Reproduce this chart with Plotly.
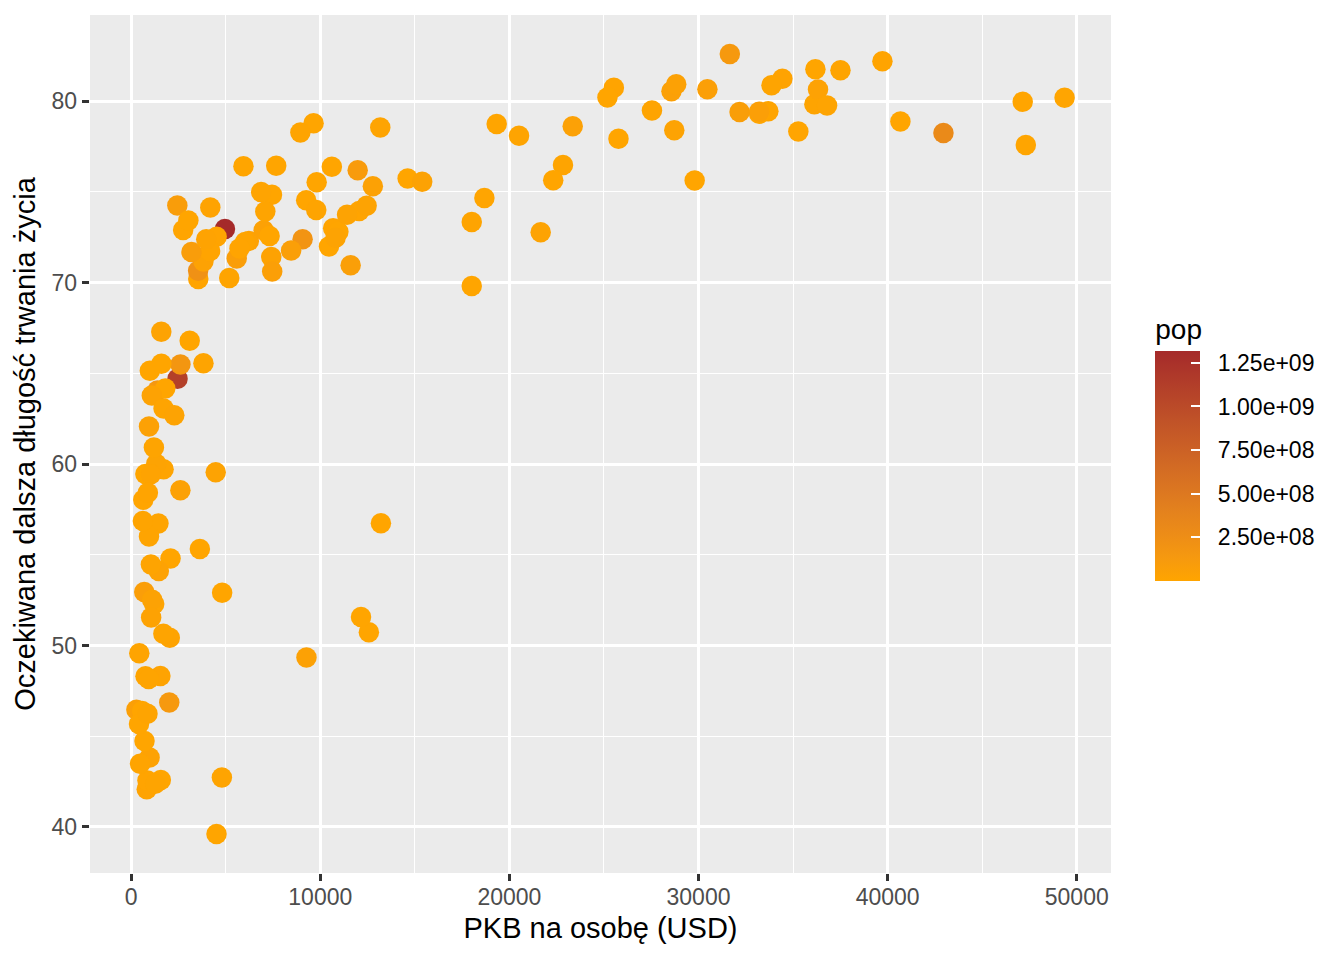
import numpy as np
import plotly.graph_objects as go

# gapminder, 2007
countries = [
    "Afghanistan", "Albania", "Algeria", "Angola", "Argentina", "Australia", "Austria", "Bahrain",
    "Bangladesh", "Belgium", "Benin", "Bolivia", "Bosnia and Herzegovina", "Botswana", "Brazil",
    "Bulgaria", "Burkina Faso", "Burundi", "Cambodia", "Cameroon", "Canada", "Central African Republic",
    "Chad", "Chile", "China", "Colombia", "Comoros", "Congo, Dem. Rep.", "Congo, Rep.", "Costa Rica",
    "Cote d'Ivoire", "Croatia", "Cuba", "Czech Republic", "Denmark", "Djibouti", "Dominican Republic",
    "Ecuador", "Egypt", "El Salvador", "Equatorial Guinea", "Eritrea", "Ethiopia", "Finland", "France",
    "Gabon", "Gambia", "Germany", "Ghana", "Greece", "Guatemala", "Guinea", "Guinea-Bissau", "Haiti",
    "Honduras", "Hong Kong, China", "Hungary", "Iceland", "India", "Indonesia", "Iran", "Iraq", "Ireland",
    "Israel", "Italy", "Jamaica", "Japan", "Jordan", "Kenya", "Korea, Dem. Rep.", "Korea, Rep.", "Kuwait",
    "Lebanon", "Lesotho", "Liberia", "Libya", "Madagascar", "Malawi", "Malaysia", "Mali", "Mauritania",
    "Mauritius", "Mexico", "Mongolia", "Montenegro", "Morocco", "Mozambique", "Myanmar", "Namibia",
    "Nepal", "Netherlands", "New Zealand", "Nicaragua", "Niger", "Nigeria", "Norway", "Oman", "Pakistan",
    "Panama", "Paraguay", "Peru", "Philippines", "Poland", "Portugal", "Puerto Rico", "Reunion", "Romania",
    "Rwanda", "Sao Tome and Principe", "Saudi Arabia", "Senegal", "Serbia", "Sierra Leone", "Singapore",
    "Slovak Republic", "Slovenia", "Somalia", "South Africa", "Spain", "Sri Lanka", "Sudan", "Swaziland",
    "Sweden", "Switzerland", "Syria", "Taiwan", "Tanzania", "Thailand", "Togo", "Trinidad and Tobago",
    "Tunisia", "Turkey", "Uganda", "United Kingdom", "United States", "Uruguay", "Venezuela", "Vietnam",
    "West Bank and Gaza", "Yemen, Rep.", "Zambia", "Zimbabwe",
]

gdp_per_cap = [
    974.58, 5937.03, 6223.37, 4797.23, 12779.38, 34435.37, 36126.49, 29796.05,
    1391.25, 33692.61, 1441.28, 3822.14, 7446.30, 12569.85, 9065.80,
    10680.79, 1217.03, 430.07, 1713.78, 2042.10, 36319.24, 706.02,
    1704.06, 13171.64, 4959.11, 7006.58, 986.15, 277.55, 3632.56, 9645.06,
    1544.75, 14619.22, 8948.10, 22833.31, 35278.42, 2082.48, 6025.37,
    6873.26, 5581.18, 5728.35, 12154.09, 641.37, 690.81, 33207.08, 30470.02,
    13206.48, 752.75, 32170.37, 1327.61, 27538.41, 5186.05, 942.65, 579.23, 1201.64,
    3548.33, 39724.98, 18008.94, 36180.79, 2452.21, 3540.65, 11605.71, 4471.06, 40676.00,
    25523.28, 28569.72, 7320.88, 31656.07, 4519.46, 1463.25, 1593.07, 23348.14, 47306.99,
    10461.06, 1569.33, 414.51, 12057.50, 1044.77, 759.35, 12451.66, 1042.58, 1803.15,
    10956.99, 11977.57, 3095.77, 9253.90, 3820.18, 823.69, 944.00, 4811.06,
    1091.36, 36797.93, 25185.01, 2749.32, 619.68, 2013.98, 49357.19, 22316.19, 2605.95,
    9809.19, 4172.84, 7408.91, 3190.48, 15389.92, 20509.65, 19328.71, 7670.12, 10808.48,
    863.09, 1598.44, 21654.83, 1712.47, 9786.53, 862.54, 47143.18,
    18678.31, 25768.26, 926.14, 9269.66, 28821.06, 3970.10, 2602.39, 4513.48,
    33859.75, 37506.42, 4184.55, 28718.28, 1107.48, 7458.40, 882.97, 18008.51,
    7092.92, 8458.28, 1056.38, 33203.26, 42951.65, 10611.46, 11415.81, 2441.58,
    3025.35, 2280.77, 1271.21, 469.71,
]

life_exp = [
    43.828, 76.423, 72.301, 42.731, 75.320, 81.235, 79.829, 75.635,
    64.062, 79.441, 56.728, 65.554, 74.852, 50.728, 72.390,
    73.005, 52.295, 49.580, 59.723, 50.430, 80.653, 44.741,
    50.651, 78.553, 72.961, 72.889, 65.152, 46.462, 55.322, 78.782,
    48.328, 75.748, 78.273, 76.486, 78.332, 54.791, 72.235,
    74.994, 71.338, 71.878, 51.579, 58.040, 52.947, 79.313, 80.657,
    56.735, 59.448, 79.406, 60.022, 79.483, 70.259, 56.007, 46.388, 60.916,
    70.198, 82.208, 73.338, 81.757, 64.698, 70.650, 70.964, 59.545, 78.885,
    80.745, 80.546, 72.567, 82.603, 72.535, 54.110, 67.297, 78.623, 77.588,
    71.993, 42.592, 45.678, 73.952, 59.443, 48.303, 74.241, 54.467, 64.164,
    72.801, 76.195, 66.803, 74.543, 71.164, 42.082, 62.069, 52.906,
    63.785, 79.762, 80.204, 72.899, 56.867, 46.859, 80.196, 75.640, 65.483,
    75.537, 71.752, 71.421, 71.688, 75.563, 78.098, 78.746, 76.442, 72.476,
    46.242, 65.528, 72.777, 63.062, 74.002, 42.568, 79.972,
    74.663, 77.926, 48.159, 49.339, 80.941, 72.396, 58.556, 39.613,
    80.884, 81.701, 74.143, 78.400, 52.517, 70.616, 58.420, 69.819,
    73.923, 71.777, 51.542, 79.425, 78.242, 76.384, 73.747, 74.249,
    73.422, 62.698, 42.384, 43.487,
]

pop = [
    31889923, 3600523, 33333216, 12420476, 40301927, 20434176, 8199783, 708573,
    150448339, 10392226, 8078314, 9119152, 4552198, 1639131, 190010647,
    7322858, 14326203, 8390505, 14131858, 17696293, 33390141, 4369038,
    10238807, 16284741, 1318683096, 44227550, 710960, 64606759, 3800610, 4133884,
    18013409, 4493312, 11416987, 10228744, 5468120, 496374, 9319622,
    13755680, 80264543, 6939688, 551201, 4906585, 76511887, 5238460, 61083916,
    1454867, 1688359, 82400996, 22873338, 10706290, 12572928, 9947814, 1472041, 8502814,
    7483763, 6980412, 9956108, 301931, 1110396331, 223547000, 69453570, 27499638, 4109086,
    6426679, 58147733, 2780132, 127467972, 6053193, 35610177, 23301725, 49044790, 2505559,
    3921278, 2012649, 3193942, 6036914, 19167654, 13327079, 24821286, 12031795, 3270065,
    1250882, 108700891, 2874127, 684736, 33757175, 19951656, 47761980, 2055080,
    28901790, 16570613, 4115771, 5675356, 12894865, 135031164, 4627926, 3204897, 169270617,
    3242173, 6667147, 28674757, 91077287, 38518241, 10642836, 3942491, 798094, 22276056,
    8860588, 199579, 27601038, 12267493, 10150265, 6144562, 4553009,
    5447502, 2009245, 9118773, 43997828, 40448191, 20378239, 42292929, 1133066,
    9031088, 7554661, 19314747, 23174294, 38139640, 65068149, 5701579, 1056608,
    10276158, 71158647, 29170398, 60776238, 301139947, 3447496, 26084662, 85262356,
    4018332, 22211743, 11746035, 12311143,
]

x_ticks = [0, 10000, 20000, 30000, 40000, 50000]
x_tick_labels = ["0", "10000", "20000", "30000", "40000", "50000"]
y_ticks = [40, 50, 60, 70, 80]
pop_ticks = [2.5e8, 5.0e8, 7.5e8, 1.0e9, 1.25e9]
pop_tick_labels = ["2.50e+08", "5.00e+08", "7.50e+08", "1.00e+09", "1.25e+09"]


# ggplot-like gradient orange -> brown, interpolated in CIELAB
def hex_to_lab(h):
    rgb = np.array([int(h[i:i + 2], 16) for i in (1, 3, 5)]) / 255.0
    rgb = np.where(rgb > 0.04045, ((rgb + 0.055) / 1.055) ** 2.4, rgb / 12.92)
    m = np.array([[0.4124, 0.3576, 0.1805], [0.2126, 0.7152, 0.0722], [0.0193, 0.1192, 0.9505]])
    xyz = m @ rgb / np.array([0.95047, 1.0, 1.08883])
    f = np.where(xyz > 0.008856, np.cbrt(xyz), 7.787 * xyz + 16 / 116)
    return np.array([116 * f[1] - 16, 500 * (f[0] - f[1]), 200 * (f[1] - f[2])])


def lab_to_hex(lab):
    fy = (lab[0] + 16) / 116
    f = np.array([fy + lab[1] / 500, fy, fy - lab[2] / 200])
    xyz = np.where(f ** 3 > 0.008856, f ** 3, (f - 16 / 116) / 7.787) * np.array([0.95047, 1.0, 1.08883])
    m = np.array([[3.2406, -1.5372, -0.4986], [-0.9689, 1.8758, 0.0415], [0.0557, -0.2040, 1.0570]])
    rgb = m @ xyz
    rgb = np.where(rgb > 0.0031308, 1.055 * np.clip(rgb, 0, None) ** (1 / 2.4) - 0.055, 12.92 * rgb)
    rgb = np.clip(np.round(rgb * 255), 0, 255).astype(int)
    return "#%02x%02x%02x" % tuple(rgb)


lo, hi = hex_to_lab("#FFA500"), hex_to_lab("#A52A2A")
colorscale = [[t, lab_to_hex(lo + (hi - lo) * t)] for t in np.linspace(0, 1, 11)]

# ggplot default 5% expansion
def expand(v):
    span = max(v) - min(v)
    return [min(v) - 0.05 * span, max(v) + 0.05 * span]


fig = go.Figure()

fig.add_trace(go.Scatter(
    x=gdp_per_cap, y=life_exp, mode="markers", text=countries,
    marker=dict(
        size=20.5, color=pop, colorscale=colorscale, cmin=min(pop), cmax=max(pop),
        line=dict(width=0),
        colorbar=dict(
            title=dict(text="pop", side="top", font=dict(size=28, color="black")),
            tickvals=pop_ticks, ticktext=["\u00a0\u00a0" + t for t in pop_tick_labels],
            ticks="inside", ticklen=9, tickwidth=1.5, tickcolor="#FFFFFF",
            tickfont=dict(size=23, color="black"),
            thickness=45, lenmode="pixels", len=266.3,
            x=1.0434, xanchor="left", xpad=0, y=0.4955, yanchor="middle", ypad=0,
            outlinewidth=0,
        ),
    ),
    showlegend=False,
))

fig.update_layout(
    width=1344, height=960,
    margin=dict(l=90, r=233.3, t=15, b=87),
    paper_bgcolor="white", plot_bgcolor="#EBEBEB",
    font=dict(family="Liberation Sans, Arial, sans-serif"),
)

axis_style = dict(
    showgrid=True, gridcolor="white", gridwidth=2.8, zeroline=False, showline=False,
    ticks="outside", ticklen=7.3, tickwidth=2.8, tickcolor="#333333",
    tickfont=dict(size=23, color="#4D4D4D"),
)

fig.update_xaxes(
    range=expand(gdp_per_cap), tickvals=x_ticks, ticktext=x_tick_labels,
    ticklabelstandoff=-4,
    minor=dict(dtick=5000, tick0=0, showgrid=True, gridcolor="white", gridwidth=1.4),
    title=dict(text="PKB na osobę (USD)", font=dict(size=29, color="black"), standoff=8),
    **axis_style,
)
fig.update_yaxes(
    range=expand(life_exp), tickvals=y_ticks,
    minor=dict(dtick=5, tick0=0, showgrid=True, gridcolor="white", gridwidth=1.4),
    title=dict(text="Oczekiwana dalsza długość trwania życia", font=dict(size=29, color="black"), standoff=7),
    **axis_style,
)

fig.write_html("out.html", config={"displayModeBar": False},
               post_script="document.body.style.margin = '0px';")
